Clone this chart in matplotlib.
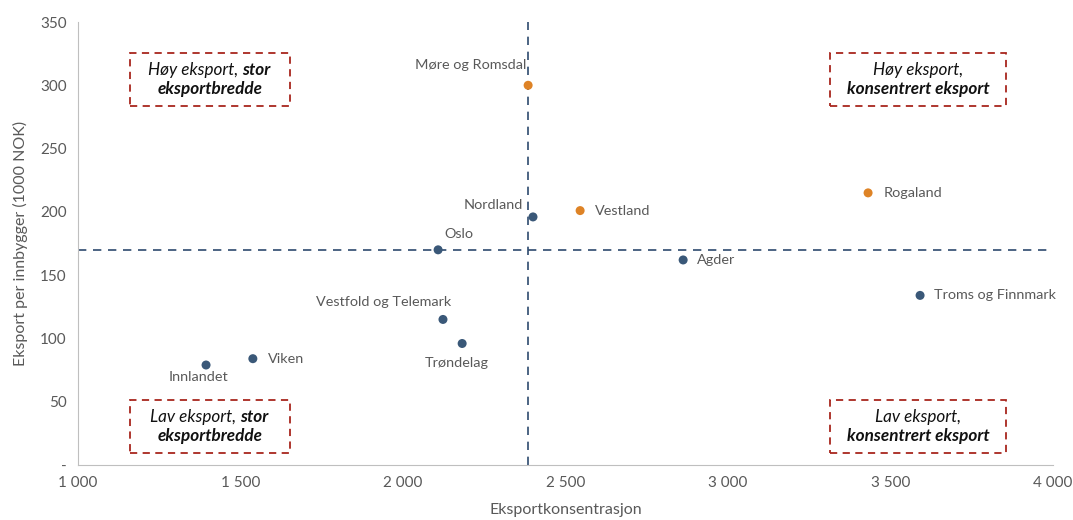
import matplotlib.pyplot as plt
from matplotlib.patches import Rectangle
from matplotlib.ticker import FuncFormatter

plt.rcParams['font.family'] = ['Lato', 'DejaVu Sans']

regions = ["Møre og Romsdal", "Nordland", "Vestland", "Rogaland", "Oslo", "Agder",
           "Troms og Finnmark", "Vestfold og Telemark", "Trøndelag", "Viken", "Innlandet"]
konsentrasjon = [2385, 2400, 2545, 3431, 2108, 2862, 3591, 2123, 2182, 1538, 1394]
eksport = [300, 196, 201, 215, 170, 162, 134, 115, 96, 84, 79]
gruppe = ["o", "b", "o", "o", "b", "b", "b", "b", "b", "b", "b"]
snitt_x = 2385
snitt_y = 170

# label offsets in pixels (dx, dy, ha)
offsets = {
    "Møre og Romsdal": (-2, 20, "right"),
    "Nordland": (-10, 12, "right"),
    "Vestland": (15, 0, "left"),
    "Rogaland": (16, 0, "left"),
    "Oslo": (6, 16, "left"),
    "Agder": (14, 0, "left"),
    "Troms og Finnmark": (14, 0, "left"),
    "Vestfold og Telemark": (8, 17, "right"),
    "Trøndelag": (-5, -20, "center"),
    "Viken": (15, 0, "left"),
    "Innlandet": (-8, -12, "center"),
}

blue = "#3A5878"
orange = "#DE8326"
grey = "#595959"
red = "#A8261E"

fig = plt.figure(figsize=(10.73, 5.2), dpi=100)
ax = fig.add_axes([78 / 1073, 1 - 465 / 520, 975 / 1073, 443 / 520])

cols = [orange if g == "o" else blue for g in gruppe]
ax.scatter(konsentrasjon, eksport, s=42, c=cols, zorder=3, linewidths=0)

ax.axvline(snitt_x, color="#2E4A6E", lw=1.2, dashes=(5, 4), zorder=2)
ax.axhline(snitt_y, color="#2E4A6E", lw=1.2, dashes=(5, 4), zorder=2)

for name, x, y in zip(regions, konsentrasjon, eksport):
    dx, dy, ha = offsets[name]
    ax.annotate(name, (x, y), xytext=(dx, dy), textcoords="offset pixels",
                ha=ha, va="center", fontsize=10.4, color=grey)

ax.set_xlim(1000, 4000)
ax.set_ylim(0, 350)
ax.set_xticks(range(1000, 4001, 500))
ax.set_yticks(range(0, 351, 50))
ax.xaxis.set_major_formatter(FuncFormatter(lambda v, p: f"{int(v):,}".replace(",", " ")))
ax.yaxis.set_major_formatter(FuncFormatter(lambda v, p: "-" if v == 0 else f"{int(v)}"))
ax.tick_params(length=0, labelsize=11, colors=grey, pad=8)
for s in ["top", "right"]:
    ax.spines[s].set_visible(False)
for s in ["left", "bottom"]:
    ax.spines[s].set_color("#BFBFBF")
ax.set_xlabel("Eksportkonsentrasjon", fontsize=11.5, color=grey, labelpad=9)
ax.set_ylabel("Eksport per innbygger (1000 NOK)", fontsize=11.5, color=grey, labelpad=9)

# quadrant boxes (axes fraction)
boxes = [
    (0.053, 0.810, 0.164, [[("Høy eksport, ", "normal"), ("stor", "bold")], [("eksportbredde", "bold")]]),
    (0.771, 0.810, 0.181, [[("Høy eksport,", "normal")], [("konsentrert eksport", "bold")]]),
    (0.053, 0.027, 0.164, [[("Lav eksport, ", "normal"), ("stor", "bold")], [("eksportbredde", "bold")]]),
    (0.771, 0.027, 0.181, [[("Lav eksport,", "normal")], [("konsentrert eksport", "bold")]]),
]
h = 0.120
fig.canvas.draw()
renderer = fig.canvas.get_renderer()
for bx, by, bw, lines in boxes:
    ax.add_patch(Rectangle((bx, by), bw, h, transform=ax.transAxes, fill=False,
                           edgecolor=red, lw=1.3, linestyle=(0, (4, 3)), clip_on=False))
    cx = bx + bw / 2
    for i, parts in enumerate(lines):
        ly = by + h * (0.68 if i == 0 else 0.32)
        texts = []
        prev = None
        for txt, wt in parts:
            if prev is None:
                t = ax.text(cx, ly, txt, transform=ax.transAxes, ha="left", va="center",
                            fontsize=12.3, style="italic", weight=wt, color="#111111")
            else:
                t = ax.annotate(txt, xy=(1, 0), xycoords=prev, ha="left", va="bottom",
                                fontsize=12.3, style="italic", weight=wt, color="#111111")
            texts.append(t)
            prev = t
        fig.canvas.draw()
        x0 = texts[0].get_window_extent(renderer).x0
        x1 = texts[-1].get_window_extent(renderer).x1
        shift = (x1 - x0) / 2 / ax.get_window_extent(renderer).width
        texts[0].set_x(cx - shift)

fig.savefig("out.png", dpi=100)
